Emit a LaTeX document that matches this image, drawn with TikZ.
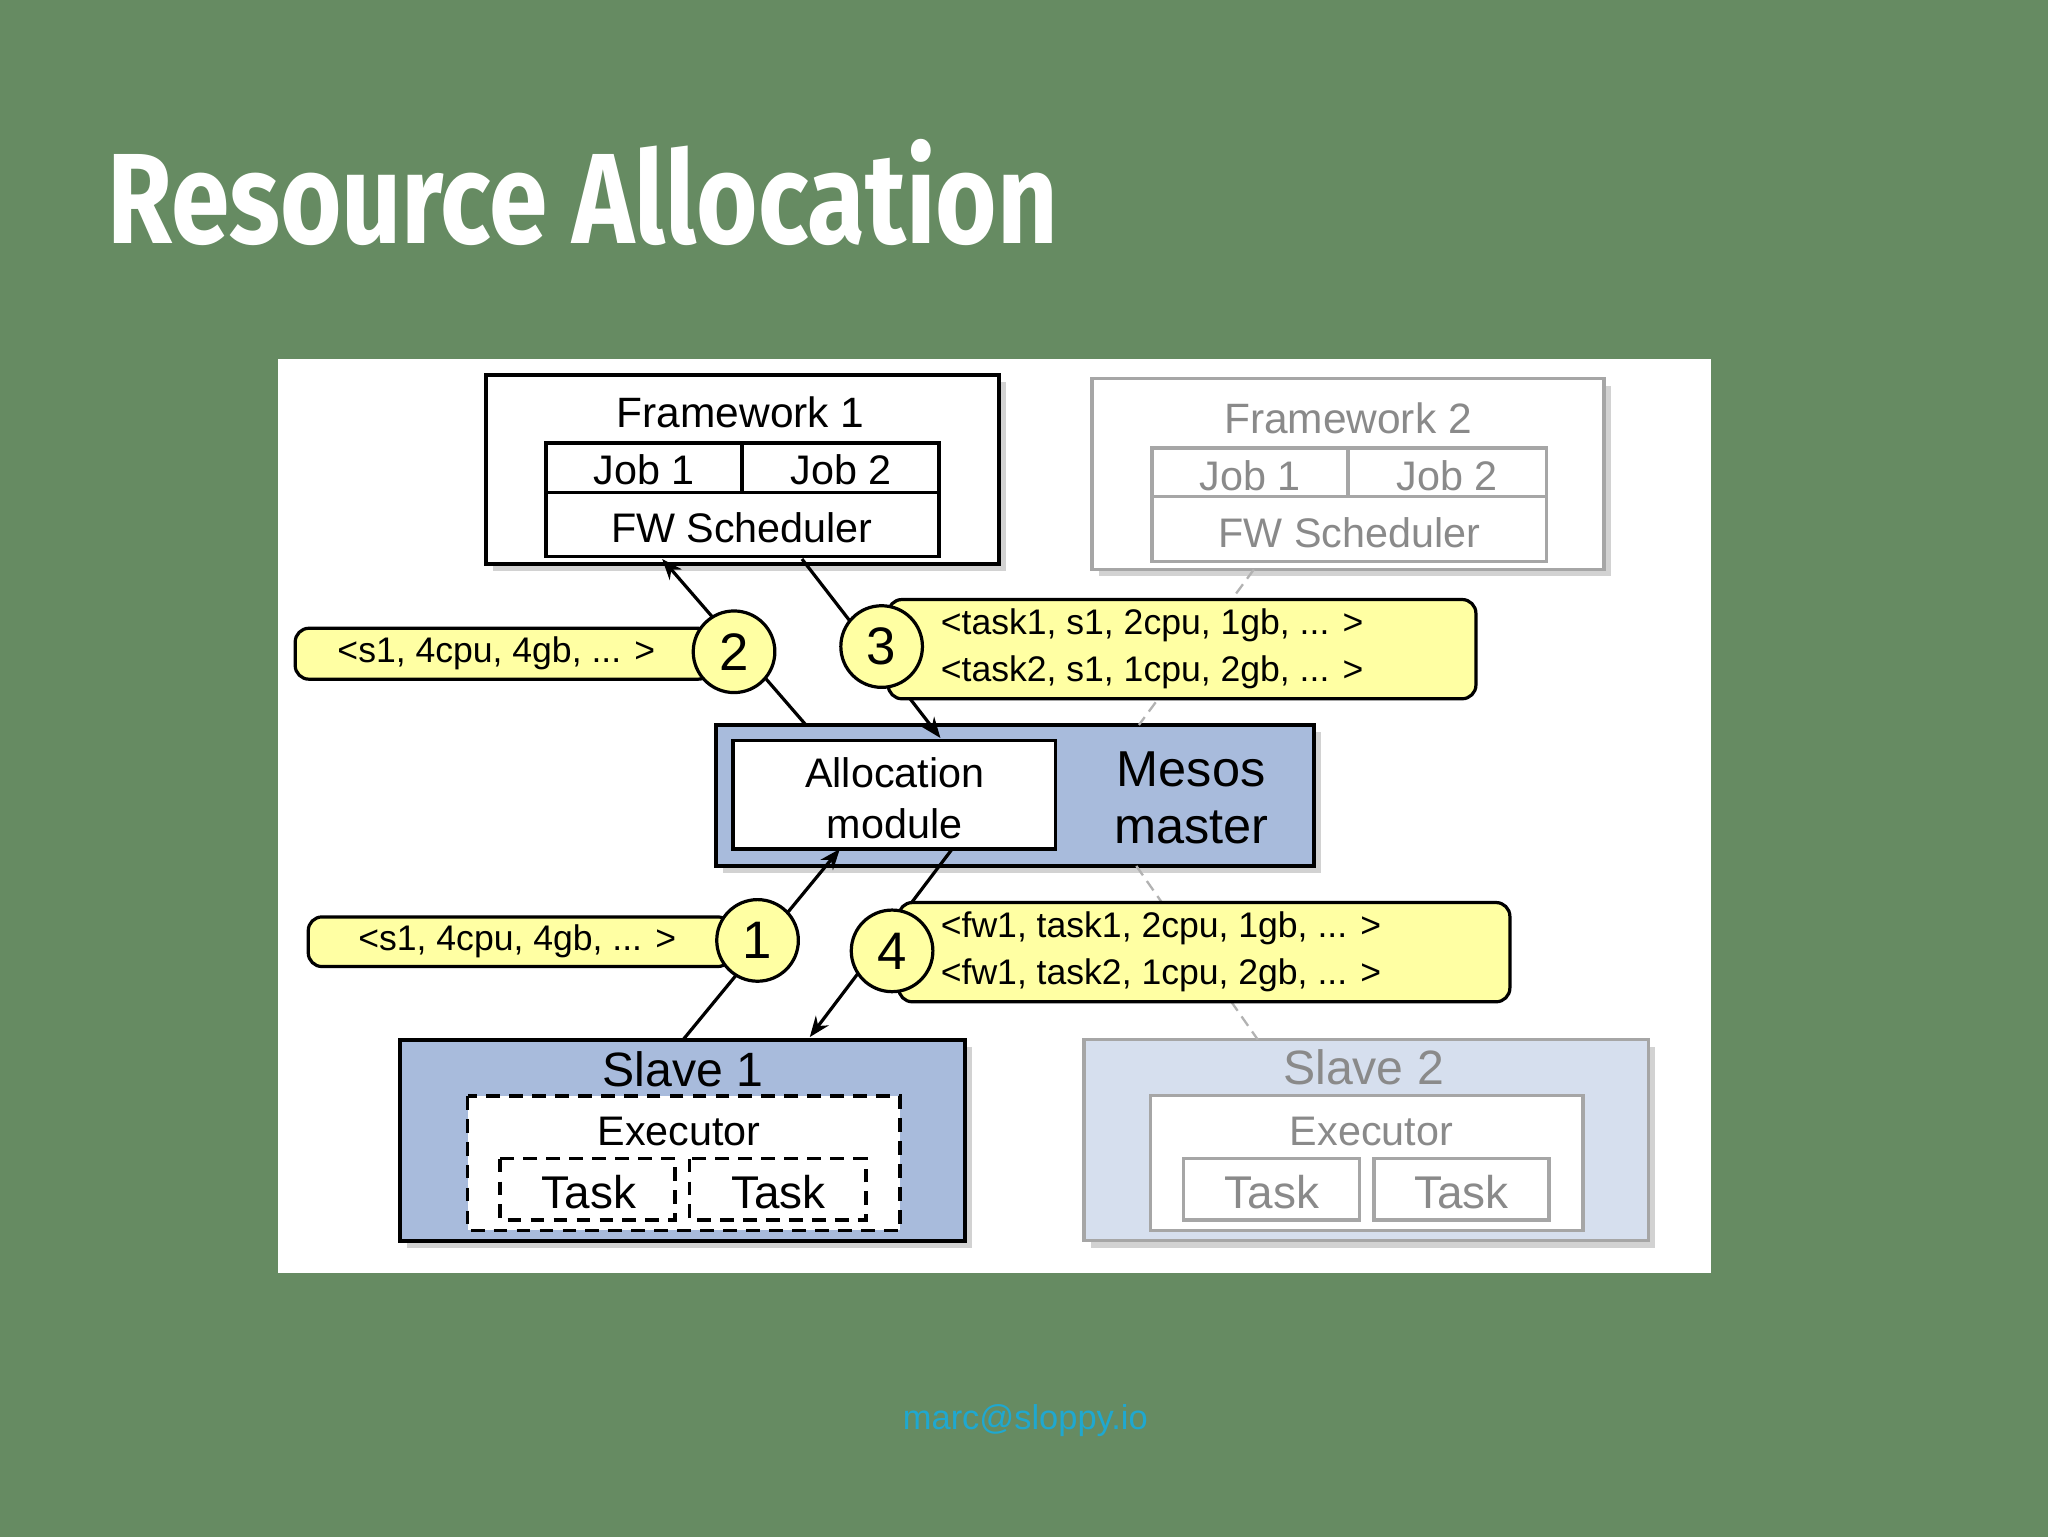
\documentclass[tikz,border=0pt]{standalone}
\usepackage{fontspec}
\setmainfont{Liberation Sans}
\newfontfamily\titlefont{Fira Sans}
\usetikzlibrary{shadows,arrows.meta}
\definecolor{bg}{HTML}{668B62}
\definecolor{mblue}{HTML}{A8BBDC}
\definecolor{lblue}{HTML}{D6DFEE}
\definecolor{yel}{HTML}{FFFFA3}
\definecolor{gtxt}{HTML}{8A8A8A}
\definecolor{mail}{HTML}{1FA8D0}
\newcommand{\fsz}[1]{\fontsize{#1}{#1}\selectfont}
\begin{document}
\begin{tikzpicture}[x=0.02cm,y=-0.02cm,
  bx/.style={draw=black,line width=1.6pt},
  gbx/.style={draw=gray!70,line width=1.4pt},
  shd/.style={drop shadow={shadow xshift=3pt,shadow yshift=-3pt,opacity=0.35}},
  ybox/.style={draw=black,fill=yel,rounded corners=6pt,line width=1.4pt},
  circ/.style={circle,draw=black,fill=yel,line width=1.4pt,minimum size=1.25cm,inner sep=0pt,font=\fsz{23}},
  ln/.style={line width=1.4pt},
  arr/.style={line width=1.4pt,-{Stealth[length=9pt,width=7pt]}},
  dsh/.style={draw=gray!60,line width=1pt,dash pattern=on 5pt off 3pt},
  txt/.style={inner sep=0pt}]
\fill[bg] (0,0) rectangle (1568,1177);
\useasboundingbox (0,0) rectangle (1568,1177);
\node[txt,anchor=west,text=white,font=\titlefont\bfseries\fsz{56},xscale=0.82] (title) at (82,147) {Resource Allocation};
\fill[white] (213,275) rectangle (1310,975);
% Framework 1
\draw[bx,fill=white,shd] (372,287) rectangle (765,432);
\node[txt,font=\fsz{18.5}] (fw1) at (567,316) {Framework 1};
\draw[bx] (418,339) rectangle (568,377) (568,339) rectangle (719,377) (418,377) rectangle (719,426);
\node[txt,font=\fsz{18}] (j11) at (493,360) {Job 1};
\node[txt,font=\fsz{18}] (j12) at (644,360) {Job 2};
\node[txt,font=\fsz{18}] (fs1) at (568,404) {FW Scheduler};
\coordinate (fs1a) at (507,428); \coordinate (fs1b) at (614,428);
% Framework 2
\draw[gbx,fill=white,shd] (836,290) rectangle (1228,436);
\node[txt,font=\fsz{18.5},text=gtxt] (fw2) at (1032,320) {Framework 2};
\draw[gbx] (882,343) rectangle (1032,380) (1032,343) rectangle (1184,380) (882,380) rectangle (1184,430);
\node[txt,font=\fsz{18},text=gtxt] (j21) at (957,364) {Job 1};
\node[txt,font=\fsz{18},text=gtxt] (j22) at (1108,364) {Job 2};
\node[txt,font=\fsz{18},text=gtxt] (fs2) at (1033,408) {FW Scheduler};
% Mesos master
\draw[bx,fill=mblue,shd] (548,555) rectangle (1006,663);
\draw[bx,fill=white] (561,567) rectangle (808,650);
\node[txt,font=\fsz{18},align=center] (alloc) at (685,611) {Allocation\\[4pt]module};
\node[txt,font=\fsz{22},align=center] (mesos) at (912,611) {Mesos\\[3pt]master};
% Slave 1
\draw[bx,fill=mblue,shd] (306,796) rectangle (739,950);
\node[txt,font=\fsz{21}] (s1) at (523,819) {Slave 1};
\draw[line width=1.6pt,fill=white,dash pattern=on 6pt off 4pt] (358,839) rectangle (689,942);
\node[txt,font=\fsz{18}] (ex1) at (520,866) {Executor};
\draw[line width=1.6pt,dash pattern=on 6pt off 4pt] (383,887) rectangle (517,934) (528,887) rectangle (663,934);
\node[txt,font=\fsz{20}] (t11) at (451,913) {Task};
\node[txt,font=\fsz{20}] (t12) at (596,913) {Task};
% Slave 2
\draw[gbx,fill=lblue,shd] (830,796) rectangle (1262,950);
\node[txt,font=\fsz{21},text=gtxt] (s2) at (1044,817) {Slave 2};
\draw[gbx,fill=white] (881,839) rectangle (1212,942);
\node[txt,font=\fsz{18},text=gtxt] (ex2) at (1050,866) {Executor};
\draw[gbx] (906,887) rectangle (1041,934) (1052,887) rectangle (1186,934);
\node[txt,font=\fsz{20},text=gtxt] (t21) at (974,913) {Task};
\node[txt,font=\fsz{20},text=gtxt] (t22) at (1119,913) {Task};
% dashed gray links
\draw[dsh] (960,436) -- (872,555);
\draw[dsh] (870,663) -- (963,796);
% arrows
\draw[arr] (617,555) -- (fs1a);
\draw[arr] (fs1b) -- (720,565);
\draw[arr] (523,796) -- (643,650);
\draw[arr] (729,650) -- (620,794);
% yellow labels
\draw[ybox] (226,481) rectangle (545,520);
\node[txt,font=\fsz{15.5}] (l2) at (380,500) {<s1, 4cpu, 4gb, ... >};
\node[circ] (c2) at (562,499) {2};
\draw[ybox] (680,459) rectangle (1130,535);
\node[txt,font=\fsz{15.5},align=left,anchor=west] (l3) at (720,497) {<task1, s1, 2cpu, 1gb, ... >\\[5pt]<task2, s1, 1cpu, 2gb, ... >};
\node[circ] (c3) at (675,495) {3};
\draw[ybox] (236,702) rectangle (560,740);
\node[txt,font=\fsz{15.5}] (l1) at (396,721) {<s1, 4cpu, 4gb, ... >};
\node[circ] (c1) at (580,720) {1};
\draw[ybox] (688,691) rectangle (1156,767);
\node[txt,font=\fsz{15.5},align=left,anchor=west] (l4) at (720,729) {<fw1, task1, 2cpu, 1gb, ... >\\[5pt]<fw1, task2, 1cpu, 2gb, ... >};
\node[circ] (c4) at (683,728) {4};
\node[txt,font=\fsz{15},text=mail] (mail) at (785,1088) {marc@sloppy.io};
\end{tikzpicture}
\end{document}
